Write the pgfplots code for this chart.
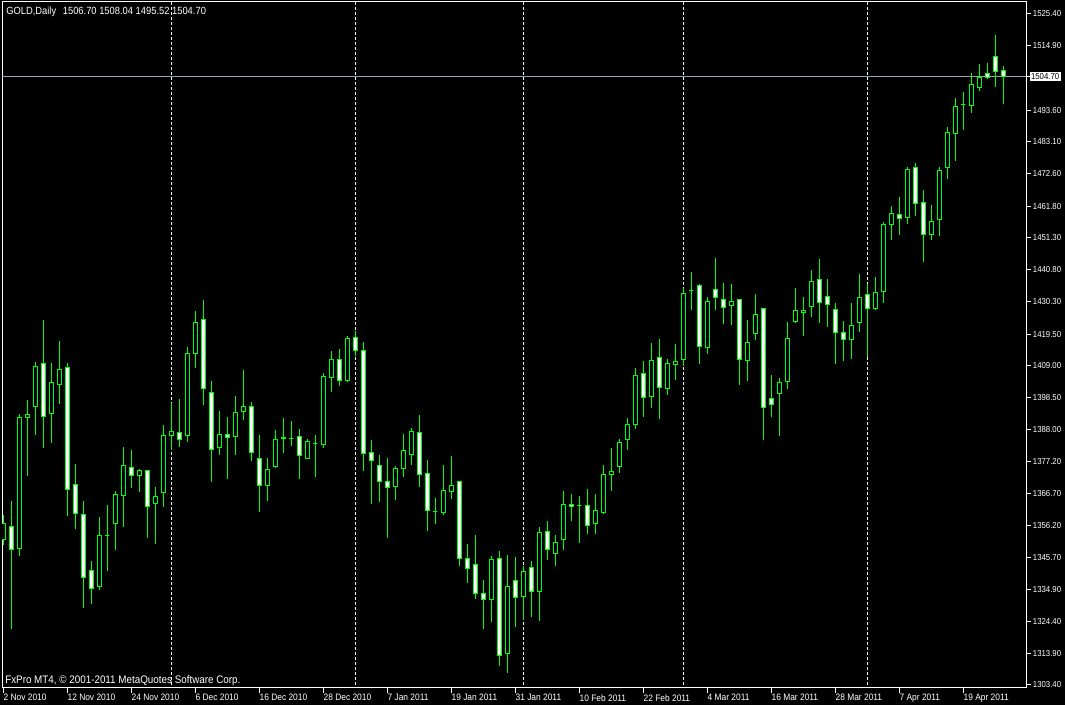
\documentclass[border=0pt]{standalone}
\usepackage{pgfplots}
\pgfplotsset{compat=1.18}
\usepackage{pgfplotstable}
\usepgfplotslibrary{statistics}
\usepackage{fontspec}
\setmainfont{Liberation Sans}
\newfontfamily\mt[FakeStretch=0.9]{Liberation Sans}
\definecolor{candle}{RGB}{0,255,0}
\definecolor{pline}{RGB}{150,160,175}

\pgfplotstableread{
k o h l c
0 1351.6 1359.6 1349.7 1356.9
1 1355.8 1364.3 1322.0 1348.1
2 1348.6 1393.0 1346.2 1392.0
3 1392.0 1397.7 1372.7 1393.0
4 1395.5 1410.3 1386.1 1408.8
5 1409.8 1424.2 1381.9 1392.2
6 1393.2 1409.9 1383.6 1403.5
7 1402.8 1417.2 1396.5 1407.8
8 1408.5 1409.9 1359.4 1368.1
9 1369.8 1376.5 1355.0 1360.2
10 1359.9 1364.3 1329.0 1339.0
11 1341.3 1344.4 1330.3 1335.4
12 1335.9 1359.0 1334.8 1352.9
13 1352.9 1363.0 1341.2 1352.9
14 1356.9 1367.6 1347.9 1366.5
15 1366.2 1382.1 1355.8 1376.1
16 1375.4 1381.2 1368.7 1372.8
17 1372.7 1374.9 1367.3 1374.5
18 1374.4 1374.4 1352.0 1362.4
19 1363.4 1368.8 1350.0 1365.8
20 1367.0 1389.4 1362.4 1385.8
21 1385.9 1396.6 1381.2 1387.3
22 1387.0 1398.0 1382.3 1384.7
23 1385.9 1415.2 1383.8 1413.1
24 1413.0 1427.1 1408.3 1423.4
25 1424.4 1430.8 1396.0 1401.4
26 1400.2 1404.0 1370.6 1381.4
27 1381.9 1394.1 1379.6 1386.3
28 1386.3 1392.1 1371.6 1385.3
29 1385.7 1399.0 1379.6 1393.6
30 1393.8 1407.6 1391.2 1395.6
31 1395.6 1397.0 1377.6 1380.4
32 1378.5 1386.1 1360.8 1369.4
33 1369.4 1378.5 1364.4 1374.8
34 1375.6 1387.7 1375.3 1384.7
35 1385.2 1391.7 1380.3 1384.8
36 1385.0 1390.7 1382.5 1385.0
37 1385.7 1388.1 1371.6 1379.3
38 1378.3 1384.8 1378.3 1384.0
39 1383.4 1386.1 1372.3 1383.4
40 1382.9 1406.6 1381.8 1405.5
41 1405.2 1413.9 1400.5 1411.2
42 1411.2 1414.6 1402.3 1404.1
43 1404.1 1418.9 1403.7 1418.1
44 1418.4 1420.5 1412.4 1414.0
45 1414.1 1416.9 1374.2 1380.1
46 1380.4 1384.5 1363.4 1377.7
47 1376.1 1379.5 1364.1 1370.7
48 1370.8 1378.4 1352.1 1368.8
49 1369.1 1375.9 1364.7 1375.1
50 1375.1 1386.4 1372.3 1381.0
51 1379.7 1388.4 1376.3 1387.3
52 1387.0 1392.7 1369.0 1373.1
53 1373.4 1377.8 1354.5 1361.2
54 1360.9 1365.3 1356.5 1360.9
55 1360.5 1376.2 1359.8 1367.8
56 1367.5 1379.2 1365.1 1369.5
57 1370.8 1370.8 1342.9 1345.3
58 1345.3 1350.1 1337.3 1342.0
59 1343.3 1353.0 1331.9 1333.7
60 1333.7 1338.1 1322.0 1331.7
61 1331.7 1346.1 1324.4 1345.0
62 1345.3 1347.7 1309.8 1313.2
63 1313.9 1346.4 1307.5 1336.0
64 1338.0 1345.6 1322.7 1332.4
65 1332.6 1342.7 1324.9 1341.0
66 1342.3 1344.3 1326.0 1334.3
67 1334.3 1355.6 1324.7 1353.9
68 1354.2 1357.6 1344.9 1348.3
69 1347.0 1353.0 1342.9 1350.6
70 1351.6 1367.5 1347.9 1363.2
71 1363.2 1366.6 1357.8 1362.4
72 1362.8 1365.9 1350.5 1362.8
73 1362.8 1368.1 1353.5 1356.2
74 1356.9 1366.6 1353.5 1361.2
75 1360.4 1376.1 1360.0 1373.1
76 1373.2 1381.7 1367.7 1373.9
77 1375.6 1384.7 1373.7 1383.7
78 1384.7 1391.6 1381.3 1389.6
79 1389.7 1408.3 1388.0 1405.9
80 1406.5 1410.6 1392.2 1398.6
81 1398.8 1416.6 1395.2 1410.8
82 1411.8 1417.9 1391.5 1401.9
83 1401.4 1411.3 1399.5 1409.8
84 1409.5 1416.2 1404.4 1410.5
85 1411.2 1434.8 1409.1 1433.0
86 1433.8 1440.0 1427.3 1433.8
87 1435.6 1436.2 1409.7 1415.5
88 1415.1 1431.8 1413.0 1430.3
89 1434.3 1444.7 1427.6 1431.7
90 1431.0 1436.4 1422.8 1428.4
91 1429.0 1436.1 1422.6 1430.3
92 1431.0 1431.0 1402.7 1411.2
93 1410.8 1424.2 1404.0 1416.8
94 1419.6 1432.8 1417.7 1426.0
95 1427.9 1427.9 1384.5 1395.3
96 1398.2 1405.9 1391.9 1396.2
97 1399.9 1405.0 1385.9 1403.5
98 1403.9 1423.5 1401.4 1418.1
99 1423.7 1434.8 1423.3 1427.4
100 1426.7 1431.8 1419.0 1427.4
101 1428.7 1440.7 1425.3 1437.0
102 1437.6 1444.5 1423.3 1430.0
103 1432.0 1437.7 1422.0 1429.3
104 1427.7 1429.8 1409.7 1420.1
105 1420.1 1423.8 1410.7 1417.8
106 1417.8 1429.8 1411.4 1422.4
107 1423.4 1439.4 1420.1 1431.7
108 1432.7 1436.1 1412.0 1428.0
109 1428.0 1438.4 1427.4 1433.3
110 1433.7 1456.7 1429.7 1455.8
111 1455.8 1461.9 1450.6 1459.5
112 1459.1 1464.9 1452.3 1457.8
113 1458.0 1474.8 1455.9 1474.1
114 1474.7 1476.1 1458.6 1462.7
115 1463.1 1467.2 1443.4 1452.4
116 1452.4 1462.2 1450.6 1456.8
117 1457.4 1474.8 1452.1 1473.7
118 1474.6 1488.0 1470.9 1486.3
119 1485.8 1497.6 1476.9 1494.9
120 1495.6 1499.6 1487.1 1495.6
121 1495.1 1505.9 1492.8 1502.1
122 1501.1 1508.9 1500.0 1504.5
123 1505.8 1509.2 1503.8 1504.5
124 1511.4 1518.5 1501.4 1506.4
125 1506.70 1508.04 1495.52 1504.70
}\gold
\pgfplotstablegetrowsof{\gold}
\pgfmathtruncatemacro\lastrow{\pgfplotsretval-1}

\begin{document}
\begin{tikzpicture}[x=0.75pt,y=0.75pt]
\fill[black] (0,0) rectangle (1065,705);
\begin{axis}[
  at={(1.5pt,12.75pt)}, anchor=south west,
  scale only axis, width=768pt, height=514.5pt,
  xmin=-0.166, xmax=127.83, ymin=1302.41, ymax=1529.37,
  axis line style={white, line width=0.75pt},
  tick style={white, line width=0.75pt},
  major tick length=3.5pt,
  tick align=outside,
  xtick pos=bottom, ytick pos=right, yticklabel pos=right,
  xtick={0,8,...,120},
  xticklabels={2 Nov 2010,12 Nov 2010,24 Nov 2010,6 Dec 2010,16 Dec 2010,28 Dec 2010,7 Jan 2011,19 Jan 2011,31 Jan 2011,10 Feb 2011,22 Feb 2011,4 Mar 2011,16 Mar 2011,28 Mar 2011,7 Apr 2011,19 Apr 2011},
  ytick={1303.4,1313.9,1324.4,1334.9,1345.7,1356.2,1366.7,1377.2,1388.0,1398.5,1409.0,1419.5,1430.3,1440.8,1451.3,1461.8,1472.6,1483.1,1493.6,1514.9,1525.4},
  yticklabels={1303.40,1313.90,1324.40,1334.90,1345.70,1356.20,1366.70,1377.20,1388.00,1398.50,1409.00,1419.50,1430.30,1440.80,1451.30,1461.80,1472.60,1483.10,1493.60,1514.90,1525.40},
  xticklabel style={font=\mt\fontsize{7}{8}\selectfont, text=white, anchor=north west, xshift=-1pt, inner sep=1pt},
  yticklabel style={font=\mt\fontsize{6.5}{8}\selectfont, text=white, anchor=west, inner sep=1.5pt},
]
\addplot[white, line width=0.75pt, dash pattern=on 2.25pt off 1.5pt] coordinates {(21,1300) (21,1535)};
\addplot[white, line width=0.75pt, dash pattern=on 2.25pt off 1.5pt] coordinates {(44,1300) (44,1535)};
\addplot[white, line width=0.75pt, dash pattern=on 2.25pt off 1.5pt] coordinates {(65,1300) (65,1535)};
\addplot[white, line width=0.75pt, dash pattern=on 2.25pt off 1.5pt] coordinates {(85,1300) (85,1535)};
\addplot[white, line width=0.75pt, dash pattern=on 2.25pt off 1.5pt] coordinates {(108,1300) (108,1535)};
\addplot[pline, line width=0.75pt] coordinates {(-1,1504.7) (130,1504.7)};
\pgfplotsinvokeforeach{0,...,\lastrow}{
  \pgfplotstablegetelem{#1}{o}\of\gold \edef\vo{\pgfplotsretval}
  \pgfplotstablegetelem{#1}{h}\of\gold \edef\vh{\pgfplotsretval}
  \pgfplotstablegetelem{#1}{l}\of\gold \edef\vl{\pgfplotsretval}
  \pgfplotstablegetelem{#1}{c}\of\gold \edef\vc{\pgfplotsretval}
  \pgfmathsetmacro\vlo{min(\vo,\vc)}
  \pgfmathsetmacro\vhi{max(\vo,\vc)}
  \ifdim\vc pt>\vo pt \def\bodyfill{black}\else\def\bodyfill{white}\fi
  \edef\doplot{\noexpand\addplot[draw=candle, fill=\bodyfill, line width=0.75pt,
    boxplot/draw direction=y,
    boxplot prepared={draw position=#1, lower whisker=\vl, lower quartile=\vlo,
      median=\vc, upper quartile=\vhi, upper whisker=\vh, box extend=0.5, whisker extend=0}]
    coordinates {};}
  \doplot
}
\coordinate (cp) at (axis cs:127.83,1504.7);
\end{axis}
\draw[white, line width=0.75pt] (cp) -- ++(3.5,0);
\node[fill=white, text=black, anchor=west, inner xsep=1pt, inner ysep=1pt, font=\mt\fontsize{6.5}{8}\selectfont] at ([xshift=2.6pt]cp) {1504.70};
\node[anchor=base west, text=white, inner sep=0, font=\mt\fontsize{7.8}{9}\selectfont] at (6,690) {GOLD,Daily\hspace{5pt}1506.70 1508.04 1495.52 1504.70};
\node[anchor=base west, text=white, inner sep=0, font=\mt\fontsize{8.2}{9}\selectfont] at (5,21) {FxPro MT4, \textcopyright{} 2001-2011 MetaQuotes Software Corp.};
\pgfresetboundingbox
\useasboundingbox (0,0) rectangle (1065,705);
\end{tikzpicture}
\end{document}
